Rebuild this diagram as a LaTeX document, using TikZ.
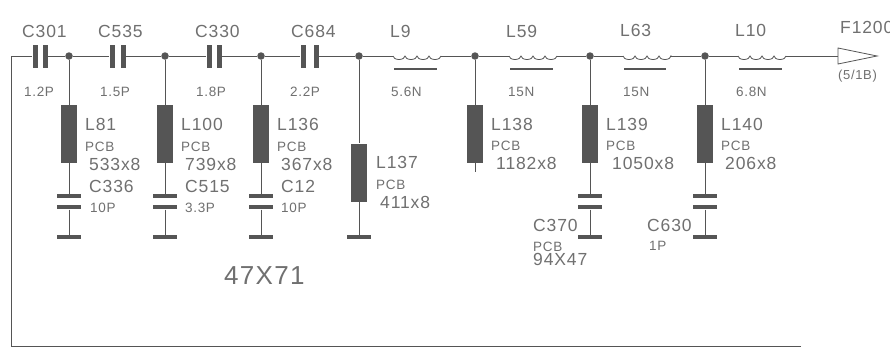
\documentclass[tikz,border=0pt]{standalone}
\usepackage{fontspec}
\setmainfont[LetterSpace=5]{Liberation Sans}
\definecolor{ink}{HTML}{555555}
\definecolor{txt}{HTML}{707070}
\tikzset{
  x=1pt,y=-1pt,
  wire/.style={draw=ink,line width=0.8pt},
  dot/.style={circle,fill=ink,inner sep=0,minimum size=7.5pt},
  pcb/.style={rectangle,fill=ink,inner sep=0,minimum width=16.5pt,minimum height=58pt},
  hplate/.style={rectangle,fill=ink,inner sep=0,minimum width=24pt,minimum height=4.6pt},
  vplate/.style={rectangle,fill=ink,inner sep=0,minimum width=5pt,minimum height=23pt},
  bar/.style={draw=ink,line width=1.1pt},
  big/.style={anchor=base west,inner sep=0,text=txt,font=\fontsize{17.5}{18}\selectfont},
  small/.style={anchor=base west,inner sep=0,text=txt,font=\fontsize{13.5}{14}\selectfont}
}
\newcommand{\coil}[2]{% left and right coordinates
  \draw[wire] (#1) arc[start angle=180,end angle=360,x radius=6pt,y radius=3.5pt]
    arc[start angle=180,end angle=360,x radius=6pt,y radius=3.5pt]
    arc[start angle=180,end angle=360,x radius=6pt,y radius=3.5pt]
    arc[start angle=180,end angle=360,x radius=6pt,y radius=3.5pt] -- (#2);}
\begin{document}
\begin{tikzpicture}
\useasboundingbox (0,0) rectangle (890,348);
\fill[white] (0,0) rectangle (890,348);
\begin{scope}
\clip (0,0) rectangle (890,348);
% junctions
\foreach \n/\xx in {j1/69,j2/165,j3/261,j4/359,j5/475,j6/590,j7/705}
  \node[dot] (\n) at (\xx,56) {};
% corners
\coordinate (cornerT) at (11,56);
\coordinate (cornerB) at (11,346);
\coordinate (endB) at (801,346);
% series capacitors
\foreach \n/\a/\b in {c301/35/45,c535/112/123,c330/209/219,c684/303/316}{
  \node[vplate] (\n a) at (\a,56) {};
  \node[vplate] (\n b) at (\b,56) {};
}
% series inductors
\foreach \n/\a/\b in {l9/393/441,l59/509/557,l63/623/670,l10/738/786}{
  \coordinate (\n a) at (\a,56);
  \coordinate (\n b) at (\b,56);
  \coordinate (\n s) at (\a+1,69);
  \coordinate (\n e) at (\b-4,69);
  \coil{\n a}{\n b}
  \draw[bar] (\n s) -- (\n e);
}
% main line
\draw[wire] (endB) -- (cornerB) -- (cornerT) -- (c301a);
\draw[wire] (c301b) -- (j1) -- (c535a);
\draw[wire] (c535b) -- (j2) -- (c330a);
\draw[wire] (c330b) -- (j3) -- (c684a);
\draw[wire] (c684b) -- (j4) -- (l9a);
\draw[wire] (l9b) -- (j5) -- (l59a);
\draw[wire] (l59b) -- (j6) -- (l63a);
\draw[wire] (l63b) -- (j7) -- (l10a);
% output flag
\coordinate (f1) at (838,48);
\coordinate (f2) at (877,56);
\coordinate (f3) at (838,64);
\coordinate (f0) at (838,56);
\draw[wire] (l10b) -- (f0);
\draw[wire] (f1) -- (f2) -- (f3) -- cycle;
% shunt PCB strips
\foreach \n/\j/\xx/\yy in {r1/j1/69/134,r2/j2/165/134,r3/j3/261/134,r4/j4/359/172.5,r5/j5/475/134,r6/j6/590/134,r7/j7/705/134}{
  \node[pcb] (\n) at (\xx,\yy) {};
  \draw[wire] (\j) -- (\n);
}
% shunt capacitors with ground plates
\foreach \n/\r/\xx in {s1/r1/69,s2/r2/165,s3/r3/261,s6/r6/590,s7/r7/705}{
  \node[hplate] (\n a) at (\xx,196) {};
  \node[hplate] (\n b) at (\xx,207) {};
  \node[hplate] (\n g) at (\xx,237) {};
  \draw[wire] (\r) -- (\n a);
  \draw[wire] (\n b) -- (\n g);
}
\node[hplate] (s4g) at (359,237) {};
\draw[wire] (r4) -- (s4g);
\coordinate (r5end) at (475,172);
\draw[wire] (r5) -- (r5end);
% labels
\foreach \n/\xx/\yy/\t in {
 a1/22/37/C301,a2/98/37/C535,a3/195/37/C330,a4/291/37/C684,
 a5/390/37/L9,a6/506/37/L59,a7/620/36/L63,a8/735/36/L10,a9/840/33/F1200,
 b1/85/130/L81,b2/89/170/533x8,b3/89/192/C336,
 b4/181/130/L100,b5/185/170/739x8,b6/185/192/C515,
 b7/277/130/L136,b8/281/170/367x8,b9/281/192/C12,
 b10/376/168/L137,b11/380/208/411x8,
 b12/491/130/L138,b13/496/169/1182x8,
 b14/606/130/L139,b15/612/169/1050x8,
 b16/721/130/L140,b17/725/169/206x8,
 b18/533/231/C370,b19/533/265/94X47,b20/647/231/C630}
  \node[big] (\n) at (\xx,\yy) {\t};
\foreach \n/\xx/\yy/\t in {
 v1/24/96/1.2P,v2/100/96/1.5P,v3/196/96/1.8P,v4/290/96/2.2P,
 v5/391/96/5.6N,v6/508/96/15N,v7/623/96/15N,v8/736/96/6.8N,
 p1/85/151/PCB,p2/181/151/PCB,p3/277/151/PCB,p4/376/189/PCB,
 p5/491/150/PCB,p6/606/150/PCB,p7/721/150/PCB,p8/533/251/PCB,
 w1/90/212/10P,w2/185/212/3.3P,w3/281/212/10P,w4/649/250/1P}
  \node[small] (\n) at (\xx,\yy) {\t};
\node[anchor=base west,inner sep=0,text=txt,font=\fontsize{13}{14}\selectfont] (ref) at (838,79) {(5/1B)};
\node[anchor=base west,inner sep=0,text=txt,font=\fontsize{26}{27}\selectfont] (board) at (224,284) {47X71};
\end{scope}
\end{tikzpicture}
\end{document}
